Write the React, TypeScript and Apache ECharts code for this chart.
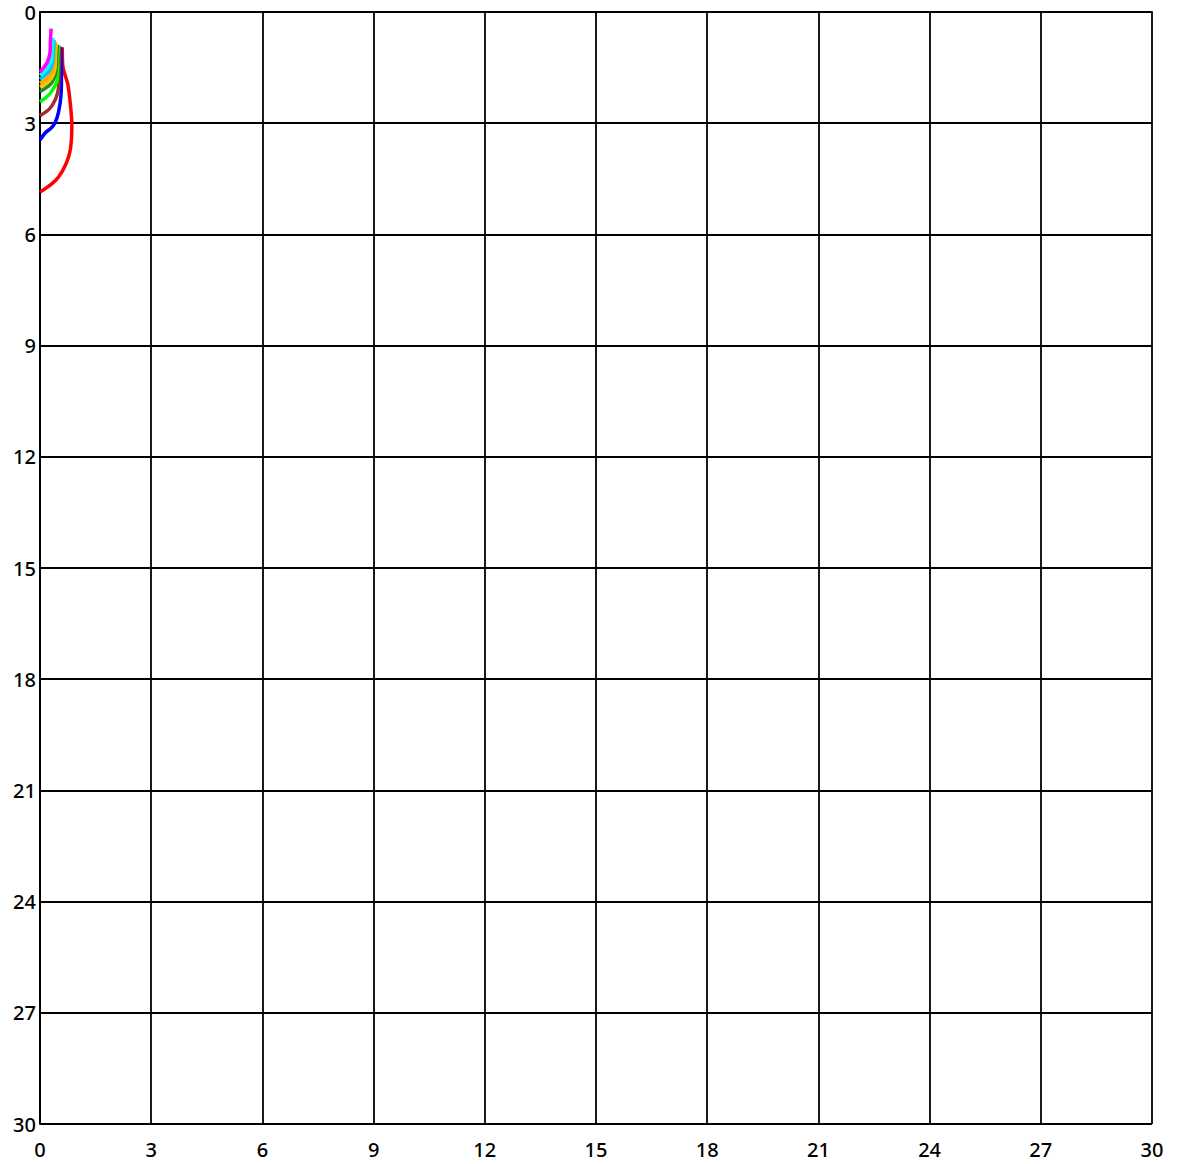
import React, { useEffect, useRef } from "react";
import * as echarts from "echarts";

const xTicks = [0, 3, 6, 9, 12, 15, 18, 21, 24, 27, 30];
const yTicks = [0, 3, 6, 9, 12, 15, 18, 21, 24, 27, 30];

const redData = [[0.6, 0.95], [0.62, 1.5], [0.75, 1.95], [0.82, 2.5], [0.86, 3.05], [0.82, 3.7], [0.7, 4.1], [0.5, 4.45], [0.3, 4.65], [0, 4.86]];
const blueData = [[0.56, 0.95], [0.58, 1.5], [0.57, 2.2], [0.5, 2.7], [0.4, 3.0], [0.28, 3.15], [0.15, 3.25], [0, 3.45]];
const brownData = [[0.53, 0.92], [0.52, 1.5], [0.5, 2.05], [0.42, 2.35], [0.25, 2.62], [0, 2.8]];
const limeData = [[0.5, 0.9], [0.48, 1.3], [0.46, 1.85], [0.33, 2.12], [0.17, 2.3], [0, 2.42]];
const greenData = [[0.47, 0.88], [0.45, 1.2], [0.42, 1.65], [0.32, 1.9], [0.16, 2.05], [0, 2.15]];
const goldData = [[0.44, 0.85], [0.42, 1.15], [0.4, 1.55], [0.3, 1.8], [0.15, 1.94], [0, 2.02]];
const orangeData = [[0.41, 0.8], [0.39, 1.1], [0.37, 1.45], [0.28, 1.68], [0.14, 1.83], [0, 1.92]];
const skyData = [[0.38, 0.75], [0.36, 1.05], [0.34, 1.35], [0.25, 1.58], [0.12, 1.72], [0, 1.81]];
const cyanData = [[0.35, 0.7], [0.33, 1.0], [0.31, 1.3], [0.22, 1.5], [0.1, 1.62], [0, 1.7]];
const magentaData = [[0.3, 0.45], [0.28, 0.8], [0.27, 1.1], [0.2, 1.35], [0.1, 1.5], [0, 1.62]];

const seriesList = [
  { name: "red", color: "#ff0000", data: redData },
  { name: "blue", color: "#0000ff", data: blueData },
  { name: "brown", color: "#a52a2a", data: brownData },
  { name: "lime", color: "#00ff00", data: limeData },
  { name: "green", color: "#228b22", data: greenData },
  { name: "gold", color: "#ffc000", data: goldData },
  { name: "orange", color: "#ffa500", data: orangeData },
  { name: "sky", color: "#00bfff", data: skyData },
  { name: "cyan", color: "#00ffff", data: cyanData },
  { name: "magenta", color: "#ff00ff", data: magentaData },
];

export default function App() {
  const ref = useRef<HTMLDivElement>(null);
  useEffect(() => {
    if (!ref.current) return;
    const chart = echarts.init(ref.current, undefined, { renderer: "svg" });
    const labelStyle = {
      color: "#000",
      fontSize: 20,
      fontWeight: 500,
      fontFamily: "Noto Sans",
    };
    chart.setOption({
      animation: false,
      backgroundColor: "#fff",
      grid: { left: 40, top: 12, right: 25, bottom: 40, containLabel: false },
      xAxis: {
        type: "value",
        min: xTicks[0],
        max: xTicks[xTicks.length - 1],
        interval: 3,
        axisLine: { show: true, lineStyle: { color: "#000", width: 1.8 } },
        axisTick: { show: false },
        axisLabel: { ...labelStyle, margin: 15 },
        splitLine: { show: true, lineStyle: { color: "#000", width: 1.8 } },
      },
      yAxis: {
        type: "value",
        inverse: true,
        min: yTicks[0],
        max: yTicks[yTicks.length - 1],
        interval: 3,
        axisLine: { show: true, lineStyle: { color: "#000", width: 1.8 } },
        axisTick: { show: false },
        axisLabel: { ...labelStyle, margin: 4 },
        splitLine: { show: true, lineStyle: { color: "#000", width: 1.8 } },
      },
      series: seriesList.map((s) => ({
        name: s.name,
        type: "line",
        data: s.data,
        showSymbol: false,
        smooth: 0.2,
        lineStyle: { color: s.color, width: 3.5 },
        itemStyle: { color: s.color },
      })),
    });
    return () => chart.dispose();
  }, []);
  return (
    <div
      ref={ref}
      style={{ position: "fixed", left: 0, top: 0, width: 1177, height: 1164 }}
    />
  );
}
